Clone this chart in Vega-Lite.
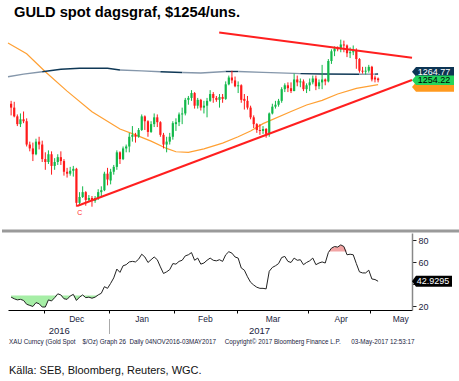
{
"$schema":"https://vega.github.io/schema/vega-lite/v6.json",
"padding":{"left":0,"top":5,"right":0,"bottom":0},
"config":{"view":{"stroke":null},"font":"Liberation Sans","axis":{"labelFont":"Liberation Sans"}},
"title":{"text":"GULD spot dagsgraf, $1254/uns.","anchor":"start","frame":"group","font":"Liberation Sans","fontWeight":"bold","fontSize":14.7,"color":"#000000","offset":7,"dx":6},
"datasets":{
"bars":[
{"d":"2016-11-16","i":0,"o":1230,"h":1233,"l":1218,"c":1226,"rsi":28.5},
{"d":"2016-11-17","i":1,"o":1226,"h":1232,"l":1216,"c":1217,"rsi":27},
{"d":"2016-11-18","i":2,"o":1217,"h":1219,"l":1207,"c":1209,"rsi":26},
{"d":"2016-11-21","i":3,"o":1209,"h":1220,"l":1206,"c":1214,"rsi":26.5},
{"d":"2016-11-22","i":4,"o":1214,"h":1222,"l":1210,"c":1212,"rsi":25.5},
{"d":"2016-11-23","i":5,"o":1212,"h":1215,"l":1186,"c":1188,"rsi":22},
{"d":"2016-11-24","i":6,"o":1188,"h":1191,"l":1181,"c":1184,"rsi":21},
{"d":"2016-11-25","i":7,"o":1184,"h":1190,"l":1171,"c":1178,"rsi":20},
{"d":"2016-11-28","i":8,"o":1178,"h":1194,"l":1177,"c":1191,"rsi":23.5},
{"d":"2016-11-29","i":9,"o":1191,"h":1196,"l":1183,"c":1188,"rsi":22.5},
{"d":"2016-11-30","i":10,"o":1188,"h":1192,"l":1170,"c":1173,"rsi":19.5},
{"d":"2016-12-01","i":11,"o":1173,"h":1180,"l":1162,"c":1170,"rsi":19.5},
{"d":"2016-12-02","i":12,"o":1170,"h":1182,"l":1168,"c":1178,"rsi":26},
{"d":"2016-12-05","i":13,"o":1178,"h":1181,"l":1157,"c":1166,"rsi":25},
{"d":"2016-12-06","i":14,"o":1166,"h":1174,"l":1162,"c":1170,"rsi":28},
{"d":"2016-12-07","i":15,"o":1170,"h":1178,"l":1167,"c":1175,"rsi":31.5},
{"d":"2016-12-08","i":16,"o":1175,"h":1181,"l":1167,"c":1171,"rsi":30.5},
{"d":"2016-12-09","i":17,"o":1171,"h":1173,"l":1156,"c":1160,"rsi":27},
{"d":"2016-12-12","i":18,"o":1160,"h":1164,"l":1154,"c":1158,"rsi":26.5},
{"d":"2016-12-13","i":19,"o":1158,"h":1165,"l":1156,"c":1161,"rsi":29.5},
{"d":"2016-12-14","i":20,"o":1161,"h":1166,"l":1155,"c":1163,"rsi":31},
{"d":"2016-12-15","i":21,"o":1163,"h":1164,"l":1124,"c":1128,"rsi":25.5},
{"d":"2016-12-16","i":22,"o":1128,"h":1139,"l":1126,"c":1134,"rsi":28.5},
{"d":"2016-12-19","i":23,"o":1134,"h":1145,"l":1133,"c":1139,"rsi":30.5},
{"d":"2016-12-20","i":24,"o":1139,"h":1140,"l":1125,"c":1131,"rsi":28},
{"d":"2016-12-21","i":25,"o":1131,"h":1136,"l":1129,"c":1133,"rsi":28.5},
{"d":"2016-12-22","i":26,"o":1133,"h":1135,"l":1124,"c":1130,"rsi":27.5},
{"d":"2016-12-23","i":27,"o":1130,"h":1135,"l":1128,"c":1133,"rsi":28.5},
{"d":"2016-12-27","i":28,"o":1133,"h":1142,"l":1131,"c":1139,"rsi":30.5},
{"d":"2016-12-28","i":29,"o":1139,"h":1145,"l":1135,"c":1141,"rsi":32},
{"d":"2016-12-29","i":30,"o":1141,"h":1160,"l":1140,"c":1158,"rsi":38},
{"d":"2016-12-30","i":31,"o":1158,"h":1164,"l":1146,"c":1152,"rsi":36.5},
{"d":"2017-01-03","i":32,"o":1151,"h":1163,"l":1147,"c":1160,"rsi":41},
{"d":"2017-01-04","i":33,"o":1160,"h":1167,"l":1157,"c":1165,"rsi":46},
{"d":"2017-01-05","i":34,"o":1165,"h":1182,"l":1162,"c":1180,"rsi":54},
{"d":"2017-01-06","i":35,"o":1180,"h":1181,"l":1168,"c":1173,"rsi":51},
{"d":"2017-01-09","i":36,"o":1173,"h":1186,"l":1172,"c":1184,"rsi":57},
{"d":"2017-01-10","i":37,"o":1184,"h":1188,"l":1180,"c":1186,"rsi":58},
{"d":"2017-01-11","i":38,"o":1186,"h":1200,"l":1180,"c":1196,"rsi":60.5},
{"d":"2017-01-12","i":39,"o":1196,"h":1207,"l":1191,"c":1198,"rsi":61},
{"d":"2017-01-13","i":40,"o":1198,"h":1200,"l":1190,"c":1196,"rsi":60.5},
{"d":"2017-01-16","i":41,"o":1196,"h":1205,"l":1195,"c":1203,"rsi":63},
{"d":"2017-01-17","i":42,"o":1203,"h":1219,"l":1202,"c":1217,"rsi":67.5},
{"d":"2017-01-18","i":43,"o":1217,"h":1218,"l":1203,"c":1212,"rsi":65},
{"d":"2017-01-19","i":44,"o":1212,"h":1213,"l":1196,"c":1201,"rsi":60},
{"d":"2017-01-20","i":45,"o":1201,"h":1212,"l":1200,"c":1209,"rsi":62.5},
{"d":"2017-01-23","i":46,"o":1209,"h":1220,"l":1206,"c":1216,"rsi":65},
{"d":"2017-01-24","i":47,"o":1216,"h":1219,"l":1206,"c":1211,"rsi":62.5},
{"d":"2017-01-25","i":48,"o":1211,"h":1212,"l":1196,"c":1198,"rsi":56},
{"d":"2017-01-26","i":49,"o":1198,"h":1200,"l":1184,"c":1188,"rsi":50},
{"d":"2017-01-27","i":50,"o":1188,"h":1196,"l":1180,"c":1191,"rsi":51.5},
{"d":"2017-01-30","i":51,"o":1191,"h":1200,"l":1188,"c":1196,"rsi":53.5},
{"d":"2017-01-31","i":52,"o":1196,"h":1212,"l":1193,"c":1210,"rsi":59},
{"d":"2017-02-01","i":53,"o":1209,"h":1215,"l":1202,"c":1211,"rsi":58.5},
{"d":"2017-02-02","i":54,"o":1211,"h":1221,"l":1207,"c":1219,"rsi":61},
{"d":"2017-02-03","i":55,"o":1219,"h":1226,"l":1209,"c":1220,"rsi":62},
{"d":"2017-02-06","i":56,"o":1220,"h":1236,"l":1218,"c":1234,"rsi":66},
{"d":"2017-02-07","i":57,"o":1234,"h":1238,"l":1229,"c":1236,"rsi":67},
{"d":"2017-02-08","i":58,"o":1236,"h":1244,"l":1233,"c":1241,"rsi":69},
{"d":"2017-02-09","i":59,"o":1241,"h":1242,"l":1225,"c":1228,"rsi":62},
{"d":"2017-02-10","i":60,"o":1228,"h":1236,"l":1225,"c":1234,"rsi":64},
{"d":"2017-02-13","i":61,"o":1234,"h":1235,"l":1223,"c":1226,"rsi":58.5},
{"d":"2017-02-14","i":62,"o":1226,"h":1233,"l":1220,"c":1228,"rsi":59.5},
{"d":"2017-02-15","i":63,"o":1228,"h":1236,"l":1216,"c":1233,"rsi":62},
{"d":"2017-02-16","i":64,"o":1233,"h":1244,"l":1232,"c":1240,"rsi":64},
{"d":"2017-02-17","i":65,"o":1240,"h":1242,"l":1231,"c":1236,"rsi":62},
{"d":"2017-02-20","i":66,"o":1236,"h":1238,"l":1232,"c":1234,"rsi":61.5},
{"d":"2017-02-21","i":67,"o":1234,"h":1240,"l":1226,"c":1237,"rsi":62.5},
{"d":"2017-02-22","i":68,"o":1237,"h":1240,"l":1231,"c":1235,"rsi":61},
{"d":"2017-02-23","i":69,"o":1235,"h":1253,"l":1234,"c":1250,"rsi":67},
{"d":"2017-02-24","i":70,"o":1250,"h":1259,"l":1249,"c":1257,"rsi":69.8},
{"d":"2017-02-27","i":71,"o":1257,"h":1264,"l":1251,"c":1254,"rsi":68.5},
{"d":"2017-02-28","i":72,"o":1254,"h":1258,"l":1247,"c":1248,"rsi":65},
{"d":"2017-03-01","i":73,"o":1248,"h":1253,"l":1241,"c":1249,"rsi":64},
{"d":"2017-03-02","i":74,"o":1249,"h":1250,"l":1231,"c":1234,"rsi":55},
{"d":"2017-03-03","i":75,"o":1235,"h":1240,"l":1224,"c":1233,"rsi":53},
{"d":"2017-03-06","i":76,"o":1233,"h":1238,"l":1224,"c":1226,"rsi":47},
{"d":"2017-03-07","i":77,"o":1226,"h":1228,"l":1214,"c":1216,"rsi":42},
{"d":"2017-03-08","i":78,"o":1216,"h":1218,"l":1205,"c":1209,"rsi":39.5},
{"d":"2017-03-09","i":79,"o":1209,"h":1210,"l":1200,"c":1203,"rsi":37.5},
{"d":"2017-03-10","i":80,"o":1203,"h":1209,"l":1198,"c":1202,"rsi":36.5},
{"d":"2017-03-13","i":81,"o":1202,"h":1207,"l":1199,"c":1204,"rsi":36.5},
{"d":"2017-03-14","i":82,"o":1204,"h":1205,"l":1195,"c":1199,"rsi":36},
{"d":"2017-03-15","i":83,"o":1199,"h":1221,"l":1196,"c":1220,"rsi":52},
{"d":"2017-03-16","i":84,"o":1220,"h":1230,"l":1219,"c":1227,"rsi":55.5},
{"d":"2017-03-17","i":85,"o":1227,"h":1233,"l":1225,"c":1229,"rsi":57},
{"d":"2017-03-20","i":86,"o":1229,"h":1235,"l":1227,"c":1233,"rsi":59},
{"d":"2017-03-21","i":87,"o":1233,"h":1247,"l":1231,"c":1245,"rsi":64.5},
{"d":"2017-03-22","i":88,"o":1245,"h":1251,"l":1242,"c":1249,"rsi":65.5},
{"d":"2017-03-23","i":89,"o":1249,"h":1252,"l":1242,"c":1246,"rsi":61},
{"d":"2017-03-24","i":90,"o":1246,"h":1252,"l":1241,"c":1243,"rsi":60},
{"d":"2017-03-27","i":91,"o":1243,"h":1261,"l":1243,"c":1255,"rsi":64},
{"d":"2017-03-28","i":92,"o":1255,"h":1259,"l":1248,"c":1252,"rsi":62},
{"d":"2017-03-29","i":93,"o":1252,"h":1256,"l":1247,"c":1253,"rsi":62.5},
{"d":"2017-03-30","i":94,"o":1253,"h":1255,"l":1243,"c":1245,"rsi":58},
{"d":"2017-03-31","i":95,"o":1245,"h":1251,"l":1241,"c":1249,"rsi":60},
{"d":"2017-04-03","i":96,"o":1249,"h":1256,"l":1243,"c":1252,"rsi":61.5},
{"d":"2017-04-04","i":97,"o":1252,"h":1259,"l":1250,"c":1256,"rsi":64},
{"d":"2017-04-05","i":98,"o":1256,"h":1259,"l":1244,"c":1248,"rsi":58},
{"d":"2017-04-06","i":99,"o":1248,"h":1255,"l":1245,"c":1252,"rsi":59.5},
{"d":"2017-04-07","i":100,"o":1252,"h":1270,"l":1245,"c":1255,"rsi":60.5},
{"d":"2017-04-10","i":101,"o":1255,"h":1256,"l":1249,"c":1253,"rsi":59.5},
{"d":"2017-04-11","i":102,"o":1253,"h":1276,"l":1252,"c":1274,"rsi":69},
{"d":"2017-04-12","i":103,"o":1274,"h":1286,"l":1271,"c":1284,"rsi":73},
{"d":"2017-04-13","i":104,"o":1284,"h":1289,"l":1279,"c":1287,"rsi":74.5},
{"d":"2017-04-14","i":105,"o":1287,"h":1289,"l":1284,"c":1286,"rsi":74},
{"d":"2017-04-17","i":106,"o":1286,"h":1296,"l":1283,"c":1291,"rsi":76},
{"d":"2017-04-18","i":107,"o":1291,"h":1295,"l":1283,"c":1290,"rsi":74.5},
{"d":"2017-04-19","i":108,"o":1290,"h":1291,"l":1278,"c":1282,"rsi":67},
{"d":"2017-04-20","i":109,"o":1282,"h":1288,"l":1277,"c":1283,"rsi":67.5},
{"d":"2017-04-21","i":110,"o":1283,"h":1290,"l":1280,"c":1284,"rsi":67},
{"d":"2017-04-24","i":111,"o":1285,"h":1287,"l":1266,"c":1276,"rsi":59},
{"d":"2017-04-25","i":112,"o":1276,"h":1277,"l":1262,"c":1264,"rsi":51.5},
{"d":"2017-04-26","i":113,"o":1264,"h":1268,"l":1261,"c":1263,"rsi":50.5},
{"d":"2017-04-27","i":114,"o":1263,"h":1268,"l":1260,"c":1264,"rsi":50.5},
{"d":"2017-04-28","i":115,"o":1264,"h":1270,"l":1262,"c":1268,"rsi":53},
{"d":"2017-05-01","i":116,"o":1268,"h":1269,"l":1253,"c":1255,"rsi":45},
{"d":"2017-05-02","i":117,"o":1257,"h":1259,"l":1252,"c":1255,"rsi":44.5},
{"d":"2017-05-03","i":118,"o":1256,"h":1257,"l":1252,"c":1254.22,"rsi":42.93}
],
"ma200":[
{"seg":1,"i":-1,"v":1257.8},{"seg":1,"i":4,"v":1260.5},{"seg":1,"i":10,"v":1263},
{"seg":2,"i":10,"v":1263},{"seg":2,"i":16,"v":1265.5},{"seg":2,"i":22,"v":1266.5},{"seg":2,"i":31,"v":1266.5},{"seg":2,"i":35,"v":1264.8},
{"seg":3,"i":35,"v":1264.8},{"seg":3,"i":42,"v":1263.8},{"seg":3,"i":48,"v":1263},
{"seg":4,"i":48,"v":1263},{"seg":4,"i":55,"v":1262.2},
{"seg":5,"i":55,"v":1262.2},{"seg":5,"i":61,"v":1261.6},{"seg":5,"i":69,"v":1263.2},
{"seg":6,"i":69,"v":1263.2},{"seg":6,"i":73,"v":1263.2},
{"seg":7,"i":73,"v":1263.2},{"seg":7,"i":81,"v":1262.3},{"seg":7,"i":91,"v":1261.3},{"seg":7,"i":93,"v":1261},
{"seg":8,"i":93,"v":1261},{"seg":8,"i":100,"v":1260.6},{"seg":8,"i":112,"v":1260.4},
{"seg":9,"i":112,"v":1260.4},{"seg":9,"i":117,"v":1260.5},
{"seg":10,"i":117,"v":1260.5},{"seg":10,"i":118,"v":1260.6}
],
"ma100":[
{"i":-1,"v":1292.5},{"i":5,"v":1281.5},{"i":11,"v":1263},{"i":18,"v":1243},{"i":26,"v":1221.8},{"i":35,"v":1204},{"i":40,"v":1198},{"i":45,"v":1191.5},{"i":50,"v":1184},{"i":53,"v":1180.6},{"i":57,"v":1180},{"i":62,"v":1183.5},{"i":68,"v":1189.5},{"i":73,"v":1196},{"i":77,"v":1202},{"i":81,"v":1209.5},{"i":90,"v":1222},{"i":95,"v":1228.7},{"i":100,"v":1233.5},{"i":105,"v":1240},{"i":111,"v":1245.8},{"i":118,"v":1249.6}
],
"trend":[
{"line":"upper","i":66.9,"v":1303.3},{"line":"upper","i":128.9,"v":1277.4},
{"line":"lower","i":21.2,"v":1124.7},{"line":"lower","i":128.9,"v":1254.4}
],
"tags":[
{"name":"ma200","v":1263,"label":"1264.77"},
{"name":"ma100","v":1247.2,"label":"1249.60"},
{"name":"last","v":1254.22,"label":"1254.22"}
]
},
"spacing":0,
"vconcat":[
{
"width":404,"height":204,
"layer":[
{"data":{"name":"ma100"},"mark":{"type":"line","color":"#ffa033","strokeWidth":1.2},
 "encoding":{"x":{"field":"i","type":"quantitative","scale":{"domain":[-1,128.9],"nice":false,"zero":false},"axis":null},
 "y":{"field":"v","type":"quantitative","scale":{"domain":[1099,1309],"nice":false,"zero":false},
  "axis":{"orient":"right","values":[1100,1125,1150,1175,1200,1225,1250,1275,1300],"format":"d","labelExpr":"(datum.value==1300||datum.value==1200||datum.value==1150)?datum.label:''","tickSize":4,"tickColor":"#222222","domainColor":"#888888","domainWidth":1.5,"labelFontSize":9,"labelColor":"#1a2440","labelPadding":2,"title":null,"grid":false}}}},
{"data":{"name":"ma200"},"mark":{"type":"line","strokeWidth":1.4},
 "encoding":{"x":{"field":"i","type":"quantitative","axis":null},"y":{"field":"v","type":"quantitative","axis":null},"detail":{"field":"seg"},
 "color":{"condition":{"test":"datum.seg % 2 == 1","value":"#8597ab"},"value":"#0f3856"}}},
{"data":{"name":"bars"},"mark":{"type":"rule","strokeWidth":1},
 "encoding":{"x":{"field":"i","type":"quantitative","axis":null},"y":{"field":"l","type":"quantitative","axis":null},"y2":{"field":"h"},
 "color":{"condition":{"test":"datum.c >= datum.o","value":"#12b84a"},"value":"#ff1a1a"}}},
{"data":{"name":"bars"},"mark":{"type":"rule","strokeWidth":2.2},
 "encoding":{"x":{"field":"i","type":"quantitative","axis":null},"y":{"field":"o","type":"quantitative","axis":null},"y2":{"field":"c"},
 "color":{"condition":{"test":"datum.c >= datum.o","value":"#12b84a"},"value":"#ff1a1a"}}},
{"data":{"name":"trend"},"mark":{"type":"line","color":"#ff1f1f","strokeWidth":2},
 "encoding":{"x":{"field":"i","type":"quantitative","axis":null},"y":{"field":"v","type":"quantitative","axis":null},"detail":{"field":"line"}}},
{"data":{"values":[{"t":"C"}]},"mark":{"type":"text","color":"#ff2a2a","fontSize":7,"align":"center","baseline":"middle"},
 "encoding":{"x":{"datum":22.1,"axis":null},"y":{"datum":1117.2,"axis":null},"text":{"field":"t"}}},
{"data":{"name":"tags"},"transform":[{"filter":"datum.name == 'ma200'"}],"mark":{"type":"point","shape":"M0,0L0.4,-0.48L4.2,-0.48L4.2,0.48L0.4,0.48Z","size":400,"filled":true,"opacity":1,"strokeWidth":0,"clip":false,"color":"#0d3554"},
 "encoding":{"x":{"datum":128.9,"axis":null},"y":{"field":"v","type":"quantitative","axis":null}}},
{"data":{"name":"tags"},"transform":[{"filter":"datum.name == 'ma200'"}],"mark":{"type":"text","fontSize":9,"color":"#ffffff","align":"center","baseline":"middle","dx":22,"clip":false},
 "encoding":{"x":{"datum":128.9,"axis":null},"y":{"field":"v","type":"quantitative","axis":null},"text":{"field":"label"}}},
{"data":{"name":"tags"},"transform":[{"filter":"datum.name != 'ma200'"}],"mark":{"type":"point","shape":"M0,0L0.4,-0.48L4.2,-0.48L4.2,0.48L0.4,0.48Z","size":400,"filled":true,"opacity":1,"strokeWidth":0,"clip":false},
 "encoding":{"x":{"datum":128.9,"axis":null},"y":{"field":"v","type":"quantitative","axis":null},
 "color":{"field":"name","type":"nominal","scale":{"domain":["ma100","last"],"range":["#ff9a1f","#22d45c"]},"legend":null}}},
{"data":{"name":"tags"},"transform":[{"filter":"datum.name == 'last'"}],"mark":{"type":"text","fontSize":9,"color":"#000000","align":"center","baseline":"middle","dx":22,"clip":false},
 "encoding":{"x":{"datum":128.9,"axis":null},"y":{"field":"v","type":"quantitative","axis":null},"text":{"field":"label"}}},
{"data":{"values":[{"s":1}]},"mark":{"type":"rule","color":"#9a9a9a","strokeWidth":3,"clip":false},
 "encoding":{"x":{"datum":-2.93,"axis":null},"x2":{"datum":144.7},"y":{"datum":1099,"axis":null}}}
]
},
{
"width":404,"height":77,
"title":{"text":"XAU Curncy (Gold Spot\u00a0\u00a0\u00a0 $/Oz) Graph 26\u00a0 Daily 04NOV2016-03MAY2017\u00a0\u00a0\u00a0\u00a0 Copyright\u00a9 2017 Bloomberg Finance L.P.\u00a0\u00a0\u00a0\u00a0\u00a0 03-May-2017 12:53:17",
 "subtitle":"K\u00e4lla: SEB, Bloomberg, Reuters, WGC.","orient":"bottom","anchor":"start","frame":"group","font":"Liberation Sans","fontWeight":"normal","fontSize":6.3,"color":"#1a2440","offset":4,"dx":1,
 "subtitleFont":"Liberation Sans","subtitleFontSize":11,"subtitleColor":"#111111","subtitlePadding":20},
"resolve":{"scale":{"y":"independent"},"axis":{"x":"independent"}},
"layer":[
{"data":{"name":"bars"},"mark":{"type":"area","color":"#a6eea6","opacity":1},
 "encoding":{"x":{"field":"i","type":"quantitative","scale":{"domain":[-1,128.9],"nice":false,"zero":false},
  "axis":{"orient":"bottom","values":[15.3,31.5,79.7],"labelExpr":"datum.value==15.3?'2016':(datum.value==79.7?'2017':'')","offset":8.5,"domain":false,"tickSize":15,"tickColor":"#aaaaaa","tickWidth":1,"tickOpacity":{"condition":{"test":"datum.value==31.5","value":1},"value":0},"labelPadding":-8.5,"labelFontSize":9.5,"labelColor":"#1a2440","title":null,"grid":false,"labelOverlap":false,"labelBound":false,"labelFlush":false}},
 "y":{"field":"rsi","type":"quantitative","scale":{"domain":[16.8,30],"range":[77,62.48],"clamp":true,"nice":false,"zero":false},"axis":null},
 "y2":{"datum":30}}},
{"data":{"name":"bars"},"mark":{"type":"area","color":"#f2a4a4","opacity":1},
 "encoding":{"x":{"field":"i","type":"quantitative","axis":null},
 "y":{"field":"rsi","type":"quantitative","scale":{"domain":[70,86.8],"range":[18.48,0],"clamp":true,"nice":false,"zero":false},"axis":null},
 "y2":{"datum":70}}},
{"mark":{"type":"rule","color":"#ff1a1a","strokeWidth":1.2},
 "encoding":{"y":{"datum":70,"type":"quantitative","scale":{"domain":[16.8,86.8],"nice":false,"zero":false},"axis":null}}},
{"mark":{"type":"rule","color":"#19e019","strokeWidth":1.6},
 "encoding":{"y":{"datum":30,"type":"quantitative","scale":{"domain":[16.8,86.8],"nice":false,"zero":false},"axis":null}}},
{"data":{"name":"bars"},"mark":{"type":"line","color":"#222222","strokeWidth":1},
 "encoding":{"x":{"field":"i","type":"quantitative",
  "axis":{"orient":"bottom","values":[10.5,31.5,52.5,72.5,95.5,115.5],"labelExpr":"['Dec','Jan','Feb','Mar','Apr','May'][indexof([10.5,31.5,52.5,72.5,95.5,115.5], datum.value)]","tickSize":3,"tickColor":"#000000","domainColor":"#000000","domainWidth":1,"labelFontSize":8.5,"labelColor":"#1a2440","labelPadding":1,
   "labelOffset":{"condition":[{"test":"datum.value==72.5","value":36},{"test":"datum.value==115.5","value":30},{"test":"datum.value==52.5","value":30.5}],"value":32.5},
   "title":null,"grid":false,"labelOverlap":false,"labelBound":false,"labelFlush":false}},
 "y":{"field":"rsi","type":"quantitative","scale":{"domain":[16.8,86.8],"nice":false,"zero":false},
  "axis":{"orient":"right","values":[20,40,60,80],"labelExpr":"datum.value==40?'':datum.label","tickSize":4,"tickColor":"#222222","domainColor":"#888888","domainWidth":1.5,"labelFontSize":9,"labelColor":"#1a2440","labelPadding":2,"title":null,"grid":false}}}},
{"data":{"values":[{"label":"42.9295","v":42.93}]},"mark":{"type":"point","shape":"M0,0L0.4,-0.55L4.0,-0.55L4.0,0.55L0.4,0.55Z","size":400,"filled":true,"opacity":1,"strokeWidth":0,"clip":false,"color":"#000000"},
 "encoding":{"x":{"datum":128.9,"axis":null},"y":{"field":"v","type":"quantitative","scale":{"domain":[16.8,86.8],"nice":false,"zero":false},"axis":null}}},
{"data":{"values":[{"label":"42.9295","v":42.93}]},"mark":{"type":"text","fontSize":9,"color":"#ffffff","align":"center","baseline":"middle","dx":21,"clip":false},
 "encoding":{"x":{"datum":128.9,"axis":null},"y":{"field":"v","type":"quantitative","scale":{"domain":[16.8,86.8],"nice":false,"zero":false},"axis":null},"text":{"field":"label"}}}
]
}
]
}
